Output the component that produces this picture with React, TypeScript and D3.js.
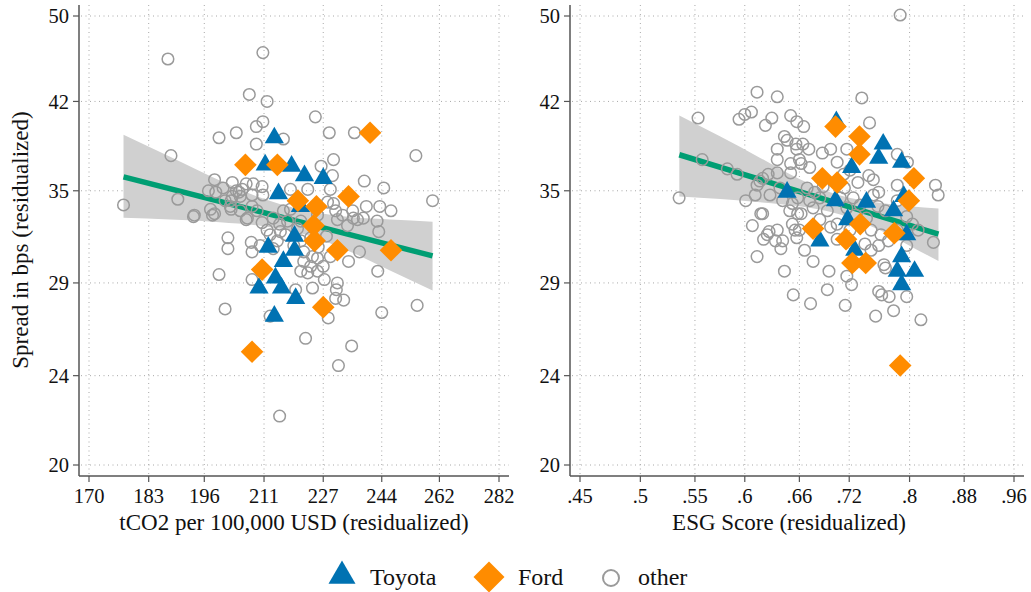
import React from 'react';
import * as d3 from 'd3';

// axis ticks (both axes are log scaled, labels are the raw values)
const spreadTicks = [20, 24, 29, 35, 42, 50];
const tco2Ticks = [170, 183, 196, 211, 227, 244, 262, 282];
const esgTicks = [0.45, 0.5, 0.55, 0.6, 0.66, 0.72, 0.8, 0.88, 0.96];

// ---- left panel: tCO2 per 100,000 USD vs spread ----
const tco2Other = [
  [187.4,45.8],[210.7,46.4],[207.2,42.6],[211.8,42.0],[224.8,40.7],[228.7,39.4],[235.9,39.4],[254.5,37.6],
  [199.6,39.0],[203.9,39.4],[209.0,39.9],[210.7,40.3],[209.0,38.5],[216.1,38.9],[188.1,37.6],[189.7,34.4],
  [177.4,34.0],[193.4,33.2],[244.6,35.2],[259.8,34.3],[243.4,33.9],[246.8,33.6],[226.4,36.8],[229.9,37.3],
  [229.6,36.1],[201.8,31.8],[201.8,31.1],[207.7,31.5],[199.6,29.5],[207.9,29.2],[201.1,27.5],[212.6,27.1],
  [219.4,28.6],[224.0,28.7],[227.3,29.2],[231.0,29.0],[230.7,28.6],[230.5,28.1],[232.8,28.0],[228.4,27.0],
  [222.1,25.9],[235.1,25.5],[231.3,24.5],[244.0,27.3],[254.9,27.7],[242.8,29.7],[215.1,22.1],[243.1,32.2],
  [237.4,30.9],[234.2,30.3],[198.5,35.8],[202.9,35.6],[197.0,35.0],[198.8,34.9],[200.6,35.2],[203.9,35.0],
  [204.6,34.9],[206.4,35.5],[208.2,35.5],[197.5,33.7],[198.5,33.4],[202.6,33.7],[206.4,33.0],[207.9,33.9],
  [205.4,35.1],[210.5,35.3],[210.7,34.7],[207.9,34.7],[204.9,34.6],[202.9,34.6],[202.4,33.9],[193.6,33.3],
  [198.0,33.3],[206.7,33.1],[209.2,33.6],[229.0,35.1],[222.7,35.1],[218.0,35.1],[228.2,34.2],[230.5,33.6],
  [216.1,33.6],[213.4,33.1],[217.2,32.9],[220.8,32.9],[225.4,33.3],[238.5,33.1],[242.6,32.9],[235.6,33.1],
  [231.0,33.0],[233.9,32.6],[211.8,32.3],[215.3,32.2],[212.6,32.0],[214.5,31.6],[210.0,31.3],[207.9,30.9],
  [213.4,31.1],[216.7,32.0],[219.9,32.4],[223.5,31.8],[220.8,31.6],[221.6,30.9],[221.6,30.3],[223.5,30.0],
  [225.4,30.5],[220.8,29.7],[222.7,29.6],[227.0,30.0],[225.4,29.7],[229.9,34.1],[232.5,33.3],[235.4,33.6],
  [236.8,33.0],[218.0,33.7],[215.1,32.7],[218.9,31.3],[224.0,30.6],[229.0,30.6],[225.6,31.2],[227.9,31.9],
  [210.5,32.8],[204.9,33.6],[201.1,34.3],[238.8,35.7],[239.4,33.9],[202.6,34.3]
];
const tco2Toyota = [
  [213.7,39.0],[211.3,36.9],[218.3,36.8],[221.8,36.1],[227.0,35.9],[214.8,34.8],[220.7,33.9],[212.1,31.2],
  [219.1,31.9],[219.1,31.0],[216.1,30.3],[214.0,29.3],[209.7,28.7],[215.6,28.7],[219.4,28.1],[213.7,27.1]
];
const tco2Ford = [
  [240.5,39.4],[206.2,36.9],[214.5,36.9],[220.0,34.3],[225.1,33.9],[234.2,34.6],[224.3,32.6],[224.6,31.6],
  [231.0,31.0],[246.8,31.0],[210.5,29.8],[227.0,27.6],[207.9,25.2]
];
const tco2FitX = [177.4, 259.8];
const tco2FitY = [36.01, 30.65];
const tco2BandX = [177.4, 187.9, 199.8, 210.0, 220.8, 231.9, 246.5, 259.8];
const tco2BandHi = [39.24, 37.52, 35.74, 34.52, 33.68, 33.24, 33.0, 32.86];
const tco2BandLo = [33.12, 33.0, 32.83, 32.59, 32.09, 31.18, 29.75, 28.55];

// ---- right panel: ESG score vs spread ----
const esgOther = [
  [.787,50.1],[.613,42.8],[.635,42.4],[.736,42.3],[.553,40.6],[.594,40.5],[.600,40.9],[.607,41.1],
  [.629,40.6],[.622,40.0],[.650,40.8],[.657,40.3],[.665,39.9],[.746,40.2],[.643,39.1],[.646,38.8],
  [.635,38.1],[.656,38.5],[.664,38.5],[.671,38.1],[.657,38.1],[.635,37.3],[.650,37.0],[.660,37.3],
  [.687,37.8],[.697,38.1],[.717,38.1],[.705,37.1],[.650,36.3],[.635,36.3],[.625,36.2],[.616,35.7],
  [.613,35.4],[.662,37.0],[.672,36.7],[.783,37.7],[.797,37.1],[.745,36.1],[.751,35.8],[.783,35.4],
  [.837,35.4],[.841,34.7],[.713,36.2],[.721,36.5],[.731,35.6],[.714,35.2],[.688,35.3],[.678,34.9],
  [.669,35.2],[.638,35.2],[.627,34.7],[.658,34.5],[.672,34.3],[.684,34.5],[.709,34.5],[.725,34.5],
  [.751,34.7],[.758,34.9],[.783,34.3],[.717,33.8],[.734,34.0],[.757,33.9],[.767,33.6],[.796,33.2],
  [.804,32.7],[.834,31.5],[.649,33.6],[.662,33.4],[.676,33.8],[.693,33.6],[.619,33.4],[.660,32.3],
  [.652,32.7],[.635,32.3],[.624,32.0],[.641,31.6],[.657,31.8],[.705,32.7],[.721,32.3],[.748,32.3],
  [.761,32.0],[.771,31.6],[.812,32.3],[.639,31.1],[.666,31.0],[.676,30.3],[.695,29.7],[.643,29.7],
  [.653,28.3],[.673,27.8],[.693,28.6],[.715,27.7],[.717,29.4],[.723,28.9],[.740,31.4],[.748,31.0],
  [.758,31.3],[.765,30.1],[.767,29.9],[.758,28.5],[.762,28.3],[.772,28.2],[.778,27.4],[.754,27.1],
  [.796,28.2],[.816,26.9],[.796,31.3],[.705,31.7],[.783,32.3],[.557,37.3],[.582,36.6],[.592,36.2],
  [.611,34.7],[.601,34.3],[.535,34.5],[.641,34.3],[.652,34.1],[.617,33.4],[.608,32.6],[.626,32.2],
  [.620,31.7],[.633,31.6],[.655,32.3],[.613,30.6],[.658,33.4],[.619,35.9],[.684,33.0],[.697,32.5],
  [.728,33.3],[.742,33.1]
];
const esgToyota = [
  [.704,40.3],[.764,38.5],[.758,37.4],[.789,37.1],[.723,36.7],[.646,34.9],[.703,34.3],[.742,34.2],
  [.778,33.6],[.792,34.6],[.718,33.0],[.796,32.0],[.684,31.6],[.727,31.0],[.789,30.6],[.783,29.7],
  [.807,29.7],[.789,28.9]
];
const esgFord = [
  [.703,39.9],[.733,39.1],[.733,37.7],[.806,35.9],[.687,35.9],[.705,35.6],[.799,34.3],[.676,32.4],
  [.734,32.7],[.779,32.1],[.716,31.7],[.724,30.2],[.741,30.2],[.787,24.5]
];
const esgFitX = [0.5352, 0.8414];
const esgFitY = [37.67, 32.03];
const esgBandX = [0.5352, 0.575, 0.6164, 0.66, 0.7088, 0.7606, 0.8, 0.8414];
const esgBandHi = [40.82, 39.09, 37.43, 35.85, 34.66, 34.13, 33.91, 33.75];
const esgBandLo = [34.60, 34.41, 34.19, 33.91, 33.35, 32.27, 31.29, 30.32];

const BLUE = '#0072B2';
const ORANGE = '#FF8C00';
const GREEN = '#009E73';
const GREY = '#9a9a9a';
const FONT = '"Liberation Serif", "Times New Roman", serif';

const TOP = 5;
const BOTTOM = 476;
const y = d3.scaleLog().domain([20, 50]).range([465, 16]);

const triPath = d3.symbol(d3.symbolTriangle, 160)();
const diaPath = d3.symbol(d3.symbolSquare, 256)();

function Panel({ x, x0, x1, ticks, fmt, title, titleX, other, toyota, ford, fitX, fitY, bandX, bandHi, bandLo, yLabel }) {
  const band = d3.area()
    .x((d, i) => x(bandX[i]))
    .y0((d, i) => y(bandLo[i]))
    .y1((d, i) => y(bandHi[i]))
    .curve(d3.curveMonotoneX)(bandX);
  const fit = d3.line().x((d, i) => x(fitX[i])).y((d, i) => y(fitY[i]))(fitX);

  return (
    <g fontFamily={FONT}>
      {spreadTicks.map(t => (
        <line key={'h' + t} x1={x0 + 2} x2={x1} y1={y(t)} y2={y(t)} stroke="#a8a8a8" strokeWidth={1} strokeDasharray="1 3.5" />
      ))}
      {ticks.map(t => (
        <line key={'v' + t} x1={x(t)} x2={x(t)} y1={TOP} y2={BOTTOM - 2} stroke="#a8a8a8" strokeWidth={1} strokeDasharray="1 3.5" />
      ))}
      <path d={band} fill="#d0d0d0" />
      <path d={fit} stroke={GREEN} strokeWidth={5.5} fill="none" />
      {other.map((d, i) => (
        <circle key={'o' + i} cx={x(d[0])} cy={y(d[1])} r={5.8} fill="none" stroke={GREY} strokeWidth={1.5} />
      ))}
      {toyota.map((d, i) => (
        <path key={'t' + i} d={triPath} transform={`translate(${x(d[0])},${y(d[1])})`} fill={BLUE} />
      ))}
      {ford.map((d, i) => (
        <path key={'f' + i} d={diaPath} transform={`translate(${x(d[0])},${y(d[1])}) rotate(45)`} fill={ORANGE} />
      ))}
      <line x1={x0} x2={x0} y1={TOP} y2={BOTTOM} stroke="#555" strokeWidth={1.5} />
      <line x1={x0} x2={x1} y1={BOTTOM} y2={BOTTOM} stroke="#555" strokeWidth={1.5} />
      {spreadTicks.map(t => (
        <g key={'yt' + t}>
          <line x1={x0 - 6} x2={x0} y1={y(t)} y2={y(t)} stroke="#555" strokeWidth={1.2} />
          <text x={x0 - 10} y={y(t)} dy="0.35em" textAnchor="end" fontSize={20.5} fill="#111">{t}</text>
        </g>
      ))}
      {ticks.map(t => (
        <g key={'xt' + t}>
          <line x1={x(t)} x2={x(t)} y1={BOTTOM} y2={BOTTOM + 6} stroke="#555" strokeWidth={1.2} />
          <text x={x(t)} y={503} textAnchor="middle" fontSize={20.5} fill="#111">{fmt(t)}</text>
        </g>
      ))}
      <text x={titleX} y={530} textAnchor="middle" fontSize={23} fill="#111">{title}</text>
      {yLabel && (
        <text transform="translate(28,240) rotate(-90)" textAnchor="middle" fontSize={23} fill="#111">{yLabel}</text>
      )}
    </g>
  );
}

export default function App() {
  const xL = d3.scaleLog().domain([170, 282]).range([89, 499]);
  const xR = d3.scaleLog().domain([0.45, 0.96]).range([580, 1014]);
  const legTri = d3.symbol(d3.symbolTriangle, 316)();
  const legDia = d3.symbol(d3.symbolSquare, 480)();

  return (
    <svg width={1031} height={592} style={{ position: 'absolute', left: 0, top: 0, background: '#fff' }}>
      <rect width={1031} height={592} fill="#fff" />
      <Panel x={xL} x0={79} x1={509} ticks={tco2Ticks} fmt={t => String(t)}
        title="tCO2 per 100,000 USD (residualized)" titleX={294}
        other={tco2Other} toyota={tco2Toyota} ford={tco2Ford}
        fitX={tco2FitX} fitY={tco2FitY} bandX={tco2BandX} bandHi={tco2BandHi} bandLo={tco2BandLo}
        yLabel="Spread in bps (residualized)" />
      <Panel x={xR} x0={570} x1={1024} ticks={esgTicks} fmt={t => String(t).replace(/^0/, '')}
        title="ESG Score (residualized)" titleX={789}
        other={esgOther} toyota={esgToyota} ford={esgFord}
        fitX={esgFitX} fitY={esgFitY} bandX={esgBandX} bandHi={esgBandHi} bandLo={esgBandLo} />
      <g fontFamily={FONT} fontSize={24} fill="#111">
        <path d={legTri} transform="translate(342,576)" fill={BLUE} />
        <text x={370} y={585}>Toyota</text>
        <path d={legDia} transform="translate(489,577) rotate(45)" fill={ORANGE} />
        <text x={518} y={585}>Ford</text>
        <circle cx={611} cy={578} r={8} fill="none" stroke={GREY} strokeWidth={2} />
        <text x={638} y={585}>other</text>
      </g>
    </svg>
  );
}
